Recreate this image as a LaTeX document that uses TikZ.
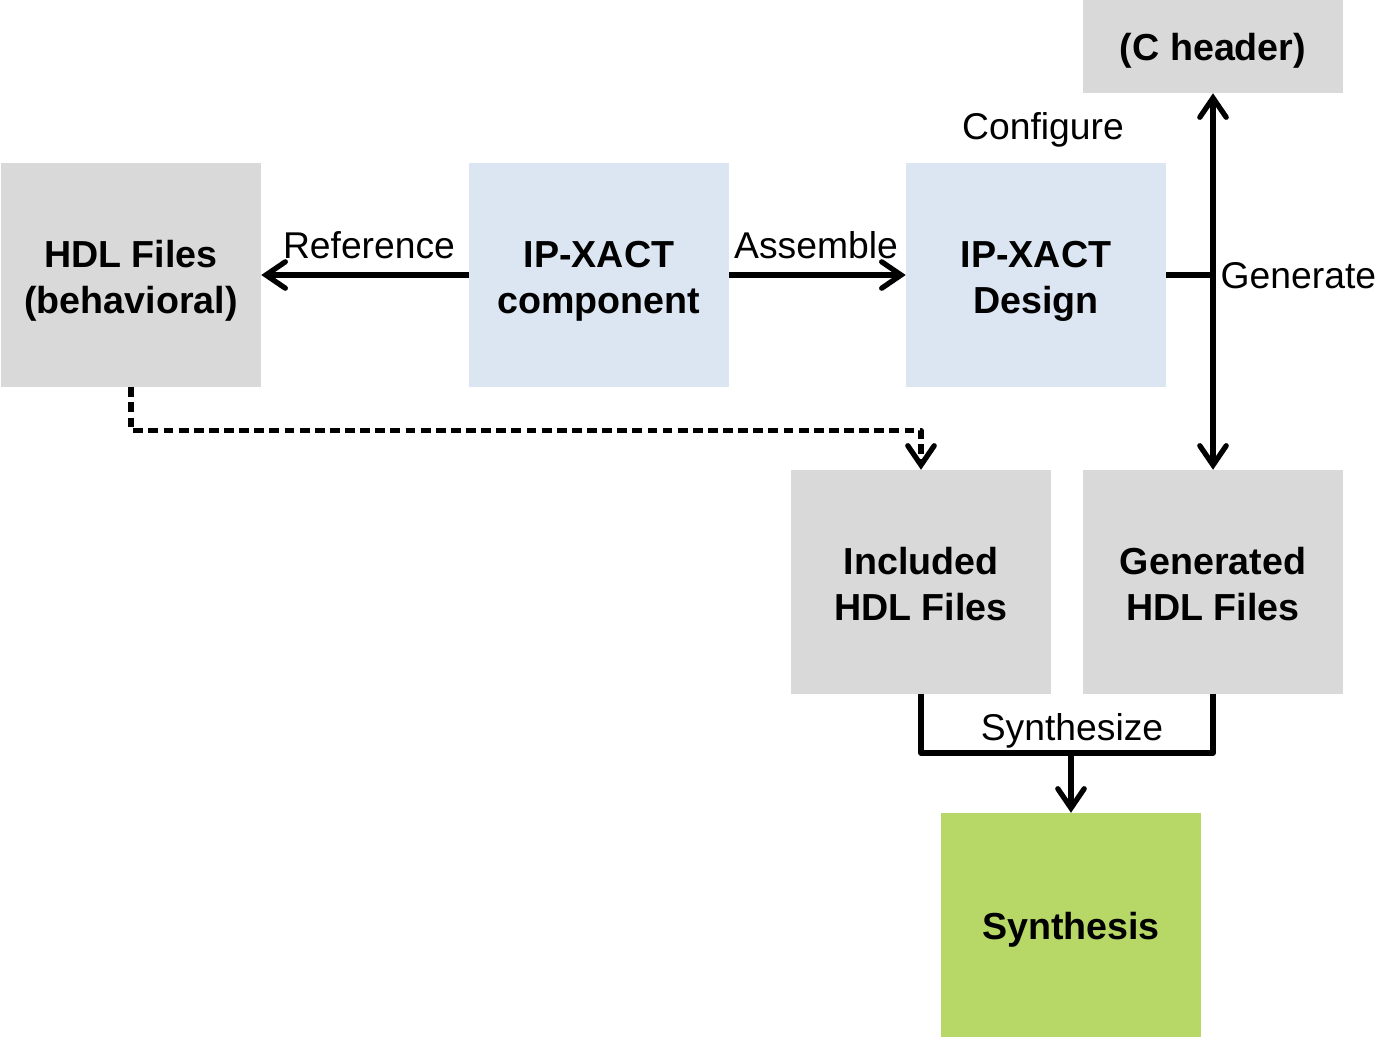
\documentclass[tikz,border=0pt]{standalone}
\usepackage{fontspec}
\setmainfont{Liberation Sans}
\usetikzlibrary{arrows.meta}

\definecolor{boxgray}{HTML}{D9D9D9}
\definecolor{boxblue}{HTML}{DCE6F2}
\definecolor{boxgreen}{HTML}{B7D866}

\begin{document}
\begin{tikzpicture}[x=0.01cm,y=-0.01cm,
  filebox/.style={fill=boxgray,minimum width=2.59cm,minimum height=2.23cm,inner sep=0pt,align=center,text height=24pt,text depth=2.25pt,font=\fontsize{10.7}{13}\selectfont\bfseries},
  onebox/.style={filebox,text height=10.4pt},
  xactbox/.style={filebox,fill=boxblue},
  lbl/.style={inner sep=0pt,anchor=base,font=\fontsize{10.6}{13}\selectfont},
  wire/.style={line width=1.5pt,line join=round},
  flow/.style={wire,-{Straight Barb[length=5.5pt,width=7.5pt,line cap=round]}}]
  \useasboundingbox (0,0) rectangle (1400,1038);

  % Boxes
  \node[filebox] (hdl) at (131,275) {HDL Files\\(behavioral)};
  \node[xactbox] (comp) at (599,275) {IP-XACT\\component};
  \node[xactbox] (design) at (1036,275) {IP-XACT\\Design};
  \node[onebox,minimum height=0.93cm] (chead) at (1213,46) {(C header)};
  \node[filebox] (incl) at (921,582) {Included\\HDL Files};
  \node[filebox] (gen) at (1213,582) {Generated\\HDL Files};
  \node[onebox,fill=boxgreen] (synth) at (1071,925) {Synthesis};

  % Labels
  \node[lbl] (ref) at (369,258) {Reference};
  \node[lbl] (asm) at (816,258) {Assemble};
  \node[lbl] (cfg) at (1043,139) {Configure};
  \node[lbl,anchor=base west] (gnr) at (1220,288) {Generate};
  \node[lbl] (syn) at (1072,740) {Synthesize};

  % Flow
  \draw[flow] (comp) -- (hdl);
  \draw[flow] (comp) -- (design);
  \coordinate (tap) at (1213,275);
  \draw[wire] (design.east) -- (tap);
  \draw[flow,{Straight Barb[length=5.5pt,width=7.5pt,line cap=round]}-{Straight Barb[length=5.5pt,width=7.5pt,line cap=round]}] (chead) -- (gen);
  \draw[flow,dash pattern=on 2.8pt off 1.5pt] (hdl.south) -- ++(0,43) -| (incl.north);
  \coordinate (join) at (1071,753);
  \draw[wire] (incl.south) |- (join) -| (gen.south);
  \draw[flow] (join) -- (synth);
\end{tikzpicture}
\end{document}
